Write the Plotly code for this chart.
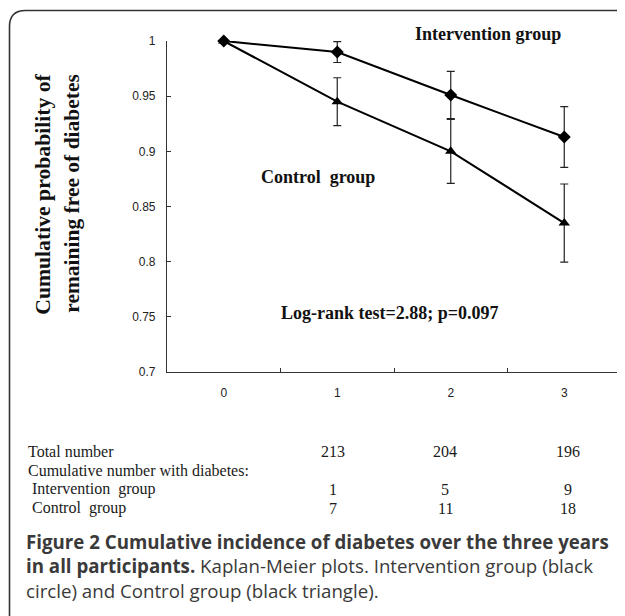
import plotly.graph_objects as go

# ---------------- data ----------------
years = ["0", "1", "2", "3"]
intervention = [1.0, 0.990, 0.951, 0.913]
intervention_err = [0.0, 0.0095, 0.0214, 0.0276]
control = [1.0, 0.945, 0.900, 0.835]
control_err = [0.0, 0.0217, 0.029, 0.0354]

y_tickvals = [0.7, 0.75, 0.8, 0.85, 0.9, 0.95, 1.0]
y_ticktext = ["0.7", "0.75", "0.8", "0.85", "0.9", "0.95", "1"]

table_labels = ["Total number", "Cumulative number with diabetes:",
                "\u00a0Intervention\u00a0 group", "\u00a0Control\u00a0 group"]
total_number = ["213", "204", "196"]
intervention_cases = ["1", "5", "9"]
control_cases = ["7", "11", "18"]

caption_lines = [
    "<b>Figure 2 Cumulative incidence of diabetes over the three years</b>",
    "<b>in all participants.</b> Kaplan-Meier plots. Intervention group (black",
    "circle) and Control group (black triangle).",
]

# ---------------- geometry ----------------
# the page body adds an 8px margin, so the figure is drawn 8px smaller/shifted
OFF = 8
W, H = 625 - OFF, 616 - OFF
L, R, T, B = 167 - OFF, 4, 41 - OFF, 243.5
PW, PH = W - L - R, H - T - B


def px(x):
    return (x - OFF - L) / PW


def py(y):
    return 1 - (y - OFF - T) / PH


fig = go.Figure()

fig.add_trace(go.Scatter(
    x=years, y=intervention, mode="lines+markers", name="Intervention group",
    line=dict(color="black", width=2),
    marker=dict(symbol="diamond", size=10, color="black"),
    error_y=dict(type="data", array=intervention_err, visible=True,
                 color="#222222", thickness=1.2, width=4),
    cliponaxis=False, showlegend=False,
))
fig.add_trace(go.Scatter(
    x=years, y=control, mode="lines+markers", name="Control group",
    line=dict(color="black", width=2),
    marker=dict(symbol="triangle-up", size=10, color="black"),
    error_y=dict(type="data", array=control_err, visible=True,
                 color="#222222", thickness=1.2, width=4),
    cliponaxis=False, showlegend=False,
))

serif = "Liberation Serif, Times New Roman, serif"
sans_narrow = "Liberation Sans Narrow, Liberation Sans, Arial, sans-serif"
cap_font = "Open Sans, Noto Sans, sans-serif"

ann = []
# group labels inside plot
ann.append(dict(text="<b>Intervention group</b>", x=px(488), y=py(34),
                font=dict(family=serif, size=18, color="#111")))
ann.append(dict(text="<b>Control\u00a0 group</b>", x=px(318), y=py(177),
                font=dict(family=serif, size=18, color="#111")))
ann.append(dict(text="<b>Log-rank test=2.88; p=0.097</b>", x=px(390), y=py(313),
                font=dict(family=serif, size=18, color="#111")))
# y-axis title (two lines)
ann.append(dict(text="<b>Cumulative probability of</b>", x=px(43), y=py(195),
                textangle=-90, font=dict(family=serif, size=21.7, color="#111")))
ann.append(dict(text="<b>remaining free of diabetes</b>", x=px(72), y=py(194),
                textangle=-90, font=dict(family=serif, size=21.5, color="#111")))

# table beneath the chart
row_y = [452, 471.5, 490, 509]
col_x = [333, 445, 568]
label_x = [26, 26, 26, 26]
for lab, yy, xx in zip(table_labels, row_y, label_x):
    ann.append(dict(text=lab, x=px(xx), y=py(yy), xanchor="left",
                    font=dict(family=serif, size=16, color="#1a1a1a")))
for vals, yy in zip([total_number, intervention_cases, control_cases],
                    [row_y[0], row_y[2], row_y[3]]):
    for v, xx in zip(vals, col_x):
        ann.append(dict(text=v, x=px(xx), y=py(yy), xanchor="center",
                        font=dict(family=serif, size=16, color="#1a1a1a")))

# caption (one multi-line text block)
ann.append(dict(text="<br>".join(caption_lines), x=px(24), y=py(567),
                xanchor="left", align="left",
                font=dict(family=cap_font, size=18.7, color="#3a3a3a")))

for a in ann:
    a.update(xref="paper", yref="paper", showarrow=False)
    a.setdefault("xanchor", "center")
    a.setdefault("yanchor", "middle")

# rounded frame (extends past the right and bottom edges)
x0, y0, x1, y1, rr = px(9.5), py(10.5), px(660), py(660), 16
rx, ry = rr / PW, rr / PH
frame = (f"M {x0} {y1} L {x0} {y0 - ry} Q {x0} {y0} {x0 + rx} {y0} "
         f"L {x1} {y0}")

fig.update_layout(
    width=W, height=H,
    margin=dict(l=L, r=R, t=T, b=B),
    paper_bgcolor="white", plot_bgcolor="white",
    annotations=ann,
    shapes=[dict(type="path", path=frame, xref="paper", yref="paper",
                 line=dict(color="#333333", width=1.6))],
    xaxis=dict(type="category", range=[-0.5, 3.5], tickson="boundaries",
               showline=True, linecolor="#333333", linewidth=1.2,
               ticks="inside", ticklen=4, tickcolor="#333333", tickwidth=1,
               showgrid=False, zeroline=False, ticklabelstandoff=9,
               tickfont=dict(family=sans_narrow, size=12, color="#222")),
    yaxis=dict(range=[0.7, 1.0], tickvals=y_tickvals, ticktext=y_ticktext,
               showline=True, linecolor="#333333", linewidth=1.2,
               ticks="inside", ticklen=4, tickcolor="#333333", tickwidth=1,
               showgrid=False, zeroline=False, ticklabelstandoff=8,
               tickfont=dict(family=sans_narrow, size=12, color="#222")),
)

fig.write_html("out.html")
